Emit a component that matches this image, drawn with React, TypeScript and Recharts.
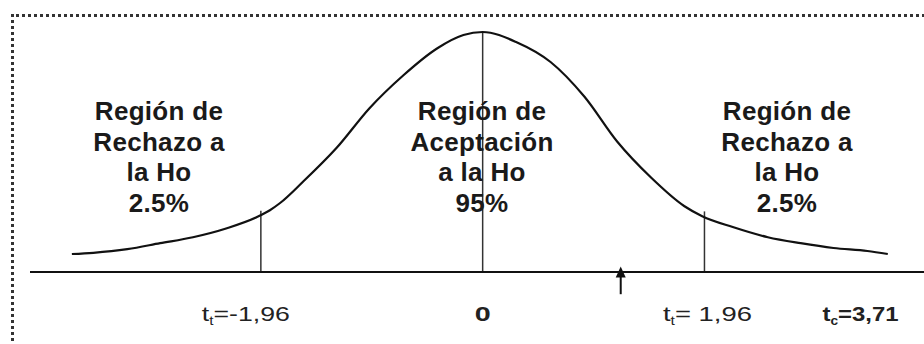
import React from "react";
import { ComposedChart, Line, XAxis, YAxis, ReferenceLine } from "recharts";

// curve: t value and curve height
const curveT = [-3.63, -3.44, -3.14, -2.85, -2.56, -2.26, -1.99, -1.88, -1.79, -1.59, -1.29, -1.0, -0.7, -0.4, -0.17, 0, 0.3, 0.6, 0.9, 1.19, 1.49, 1.78, 1.94, 2.21, 2.52, 2.81, 3.1, 3.4, 3.58];
const curveD = [0.03, 0.032, 0.038, 0.048, 0.058, 0.073, 0.092, 0.103, 0.115, 0.15, 0.207, 0.273, 0.328, 0.373, 0.395, 0.4, 0.383, 0.35, 0.292, 0.217, 0.157, 0.11, 0.093, 0.075, 0.058, 0.048, 0.04, 0.035, 0.03];

// vertical markers (critical values and mean) with their heights
const markerT = [-1.96, 0, 1.96];
const markerD = [0.102, 0.4, 0.101];

// arrow under the axis
const arrowT = 1.22;

// tick labels
const tickValues = [-1.96, 0, 1.96, 3.71];
const tickMain = ["t", "0", "t", "t"];
const tickSub = ["t", "", "t", "c"];
const tickRest = ["=-1,96", "", "= 1,96", "=3,71"];
const tickBold = [false, true, false, true];

// region texts
const regionLines = [
  ["Región de", "Rechazo a", "la Ho", "2.5%"],
  ["Región de", "Aceptación", "a la Ho", "95%"],
  ["Región de", "Rechazo a", "la Ho", "2.5%"],
];

const data = curveT.map((t, i) => ({ t, d: curveD[i] }));

const tickStyle = [
  { dx: -15, anchor: "middle", len: 88 },
  { dx: 0, anchor: "middle", len: 16 },
  { dx: 3, anchor: "middle", len: 89 },
  { dx: -4, anchor: "end", len: 76 },
];

function AxisTick(props: any) {
  const { x, y, payload, index } = props;
  const i = tickValues.indexOf(payload.value);
  const s = tickStyle[i >= 0 ? i : index];
  return (
    <text
      x={x + s.dx}
      y={y + 49}
      textAnchor={s.anchor}
      fontFamily="'Liberation Sans', Arial, sans-serif"
      fontSize={21}
      fontWeight={tickBold[i] ? "bold" : "normal"}
      fill="#222"
      textLength={s.len}
      lengthAdjust="spacingAndGlyphs"
    >
      <tspan>{tickMain[i]}</tspan>
      {tickSub[i] && (
        <tspan fontSize={12} dy={4}>
          {tickSub[i]}
        </tspan>
      )}
      {tickRest[i] && <tspan dy={tickSub[i] ? -4 : 0}>{tickRest[i]}</tspan>}
    </text>
  );
}

function Arrow(props: any) {
  const { x1, y1, x2, y2 } = props;
  const top = Math.min(y1, y2);
  const bottom = Math.max(y1, y2);
  return (
    <g>
      <line x1={x1} x2={x2} y1={top + 8} y2={bottom} stroke="#111" strokeWidth={2} />
      <polygon points={`${x1},${top} ${x1 - 5},${top + 11} ${x1 + 5},${top + 11}`} fill="#111" />
    </g>
  );
}

const regionLeft = [159, 482, 787];

export default function App() {
  return (
    <div style={{ position: "absolute", left: 0, top: 0, width: 924, height: 344, background: "#fff", overflow: "hidden" }}>
      <div
        style={{
          position: "absolute",
          left: 11,
          top: 14,
          width: 940,
          height: 360,
          borderTop: "3px dotted #333",
          borderLeft: "3px dotted #333",
        }}
      />
      <ComposedChart width={924} height={344} data={data} margin={{ top: 8, right: 0, left: 30, bottom: 0 }} style={{ position: "absolute", left: 0, top: 0 }}>
        <XAxis
          dataKey="t"
          type="number"
          domain={[-4, 3.9]}
          allowDataOverflow
          ticks={tickValues}
          tick={<AxisTick />}
          tickLine={false}
          tickSize={0}
          tickMargin={0}
          height={72}
          interval={0}
          axisLine={{ stroke: "#111", strokeWidth: 2 }}
        />
        <YAxis hide domain={[0, 0.44]} allowDataOverflow />
        {markerT.map((t, i) => (
          <ReferenceLine
            key={i}
            segment={[
              { x: t, y: 0 },
              { x: t, y: markerD[i] },
            ]}
            stroke="#333"
            strokeWidth={1.5}
          />
        ))}
        <ReferenceLine
          segment={[
            { x: arrowT, y: -0.037 },
            { x: arrowT, y: 0.009 },
          ]}
          ifOverflow="visible"
          shape={<Arrow />}
        />
        <Line dataKey="d" type="monotone" dot={false} stroke="#111" strokeWidth={2.2} isAnimationActive={false} />
      </ComposedChart>
      {regionLines.map((lines, r) => (
        <div
          key={r}
          style={{
            position: "absolute",
            left: regionLeft[r] - 100,
            top: 96,
            width: 200,
            textAlign: "center",
            fontFamily: "'Liberation Sans', Arial, sans-serif",
            fontWeight: "bold",
            fontSize: 26,
            letterSpacing: 0.3,
            lineHeight: "30.5px",
            color: "#1a1a1a",
          }}
        >
          {lines.map((l, k) => (
            <div key={k}>{l}</div>
          ))}
        </div>
      ))}
    </div>
  );
}
